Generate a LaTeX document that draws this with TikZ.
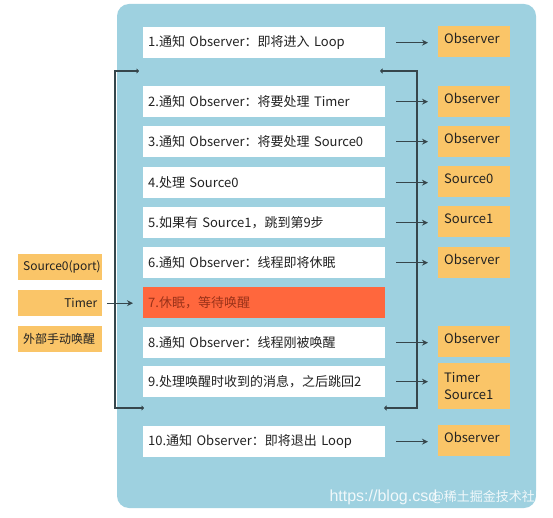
\documentclass[tikz,border=0pt]{standalone}
\usepackage{fontspec}
\setmainfont{Noto Sans CJK SC}
\newfontfamily\marque{Liberation Sans}
\usetikzlibrary{arrows.meta}
\definecolor{fond}{HTML}{9ED1E0}
\definecolor{jaune}{HTML}{FAC568}
\definecolor{rouge}{HTML}{FF673D}
\definecolor{brique}{HTML}{9A3219}
\definecolor{trait}{HTML}{36464C}
\definecolor{texte}{HTML}{222222}

\begin{document}
\begin{tikzpicture}[x=1pt,y=-1pt]
	\tikzstyle{etape}=[anchor=north west, fill=white, text=texte, font=\fontsize{13}{15}\selectfont, text width=232pt, align=left, inner xsep=5pt, inner ysep=0pt, minimum height=31pt]
	\tikzstyle{boite}=[anchor=north west, fill=jaune, text=texte, font=\fontsize{13}{17}\selectfont, text width=60pt, align=left, inner xsep=6pt, inner ysep=0pt, minimum height=31pt, text depth=6pt]
	\tikzstyle{source}=[anchor=north west, fill=jaune, text=texte, font=\fontsize{12}{14}\selectfont, text width=74pt, inner xsep=5pt, inner ysep=0pt, minimum height=26pt]
	\tikzstyle{fleche}=[draw=trait, line width=1.2pt, -{Stealth[length=6pt,width=6pt]}]
	\tikzstyle{boucle}=[draw=trait, line width=1.2pt, {Triangle[length=2.5pt,width=5pt]}-{Triangle[length=2.5pt,width=5pt]}]
	\useasboundingbox (0,0) rectangle (553,518);
	\fill[fond, rounded corners=12pt] (117,4) rectangle (536,508);

	\node[etape] (e1) at (143,27){1.通知 Observer：即将进入 Loop};
	\node[etape] (e2) at (143,86){2.通知 Observer：将要处理 Timer};
	\node[etape] (e3) at (143,126){3.通知 Observer：将要处理 Source0};
	\node[etape] (e4) at (143,167){4.处理 Source0};
	\node[etape] (e5) at (143,207){5.如果有 Source1，跳到第9步};
	\node[etape] (e6) at (143,247){6.通知 Observer：线程即将休眠};
	\node[etape, fill=rouge, text=brique] (e7) at (143,287){7.休眠，等待唤醒};
	\node[etape] (e8) at (143,327){8.通知 Observer：线程刚被唤醒};
	\node[etape] (e9) at (143,366){9.处理唤醒时收到的消息，之后跳回2};
	\node[etape] (e10) at (143,426){10.通知 Observer：即将退出 Loop};

	\node[boite] (o1) at (438,26){Observer};
	\node[boite] (o2) at (438,86){Observer};
	\node[boite] (o3) at (438,126){Observer};
	\node[boite] (o4) at (438,166){Source0};
	\node[boite] (o5) at (438,206){Source1};
	\node[boite] (o6) at (438,247){Observer};
	\node[boite] (o8) at (438,326){Observer};
	\node[boite, minimum height=46pt, text depth=18pt] (o9) at (438,363){Timer\\Source1};
	\node[boite] (o10) at (438,425){Observer};

	\node[source, align=center] (s0) at (18,254){Source0(port)};
	\node[source, align=right] (tm) at (18,290){Timer};
	\node[source, align=left] (ev) at (18,326){外部手动唤醒};

	\foreach \i in {1,2,3,4,5,6,8,9,10}
		\draw[fleche, shorten <=11pt, shorten >=10pt] (e\i.east) -- (o\i.west |- e\i.east);
	\draw[fleche, shorten <=5pt, shorten >=10pt] (tm.east) -- (e7.west |- tm.east);

%	la boucle de 2 a 9
	\coordinate (hg) at (139,71);
	\coordinate (bg) at (144,408);
	\coordinate (hd) at (380,71);
	\coordinate (bd) at (384,408);
	\draw[boucle] (bg) -- ++(-29,0) |- (hg);
	\draw[boucle] (bd) -- ++(33,0) |- (hd);

	\node[anchor=west, text=white, opacity=0.85, font=\marque\fontsize{16}{16}\selectfont] (url) at (326,497){https://blog.csd};
	\node[anchor=west, text=white, opacity=0.85, font=\fontsize{13}{13}\selectfont] (wm) at (428,497){@稀土掘金技术社区};
\end{tikzpicture}
\end{document}
